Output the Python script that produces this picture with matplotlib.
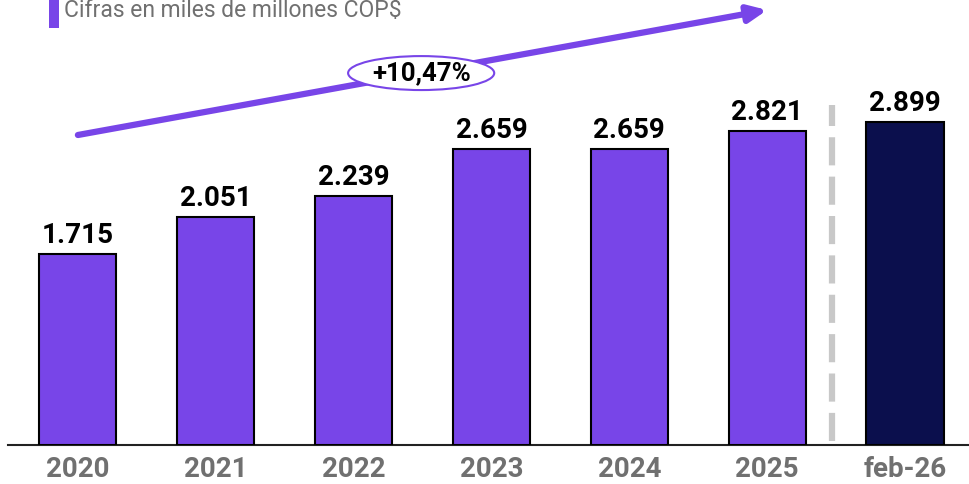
#!/usr/bin/python
# -*- encoding: UTF-8 -*-
'''Bar chart: cifras en miles de millones COP$'''

import matplotlib
matplotlib.use('Agg')
import matplotlib.pyplot as plt
from matplotlib.patches import Ellipse, Rectangle

#==============================================================================
categories = ['2020', '2021', '2022', '2023', '2024', '2025', 'feb-26']
values = [1715, 2051, 2239, 2659, 2659, 2821, 2899]
value_labels = ['1.715', '2.051', '2.239', '2.659', '2.659', '2.821', '2.899']
growth_label = '+10,47%'
subtitle = 'Cifras en miles de millones COP$'

PURPLE = '#7845e8'
NAVY = '#0b0f4d'
GRAY_TXT = '#707070'

plt.rcParams['font.family'] = ['Roboto', 'DejaVu Sans']

fig = plt.figure(figsize=(9.69, 4.84), dpi=100)
ax = fig.add_axes([8/969., 39/484., 961/969., 445/484.])

x = list(range(len(categories)))
colors = [PURPLE]*(len(categories)-1) + [NAVY]
bars = ax.bar(x, values, width=0.56, color=colors, edgecolor='black',
              linewidth=1.5, zorder=3)

for b, lab in zip(bars, value_labels):
    ax.annotate(lab, (b.get_x() + b.get_width()/2., b.get_height()),
                xytext=(0, 3.5), textcoords='offset points',
                ha='center', va='bottom', fontsize=20, fontweight='bold',
                color='black')

ax.set_xlim(-0.507, 6.464)
ax.set_ylim(0, 3995)
ax.set_xticks(x)
ax.set_xticklabels(categories, fontsize=20, fontweight='bold', color=GRAY_TXT)
ax.tick_params(axis='x', length=0, pad=8)
ax.set_yticks([])
for s in ['top', 'right', 'left']:
    ax.spines[s].set_visible(False)
ax.spines['bottom'].set_linewidth(1.5)
ax.spines['bottom'].set_color('#222222')
ax.patch.set_alpha(0)

# separator between annual and partial year
ax.plot([5.47, 5.47], [40, 3050], color='#c8c8c8', lw=4.5,
        dashes=(4.5, 1.8), solid_capstyle='butt', zorder=1)

# growth arrow
ax.annotate('', xy=(5.0, 3905), xytext=(0.0, 2783),
            arrowprops=dict(arrowstyle='-|>,head_length=1.1,head_width=0.5',
                            color=PURPLE, lw=4.5, shrinkA=0, shrinkB=0),
            annotation_clip=False, zorder=4)
ell = Ellipse((2.49, 3339), 1.06, 305, facecolor='white', edgecolor=PURPLE,
              lw=1.5, zorder=5)
ax.add_patch(ell)
ax.text(2.49, 3339, growth_label, ha='center', va='center', fontsize=18.5,
        fontweight='bold', color='black', zorder=6)

# subtitle with marker
fig.patches.append(Rectangle((49/969., 1-28/484.), 10/969., 28/484.,
                             transform=fig.transFigure, facecolor=PURPLE,
                             edgecolor='none'))
fig.text(64/969., 1-17/484., subtitle, ha='left', va='baseline',
         fontsize=16.5, color=GRAY_TXT)

fig.savefig('out.png', dpi=100)
